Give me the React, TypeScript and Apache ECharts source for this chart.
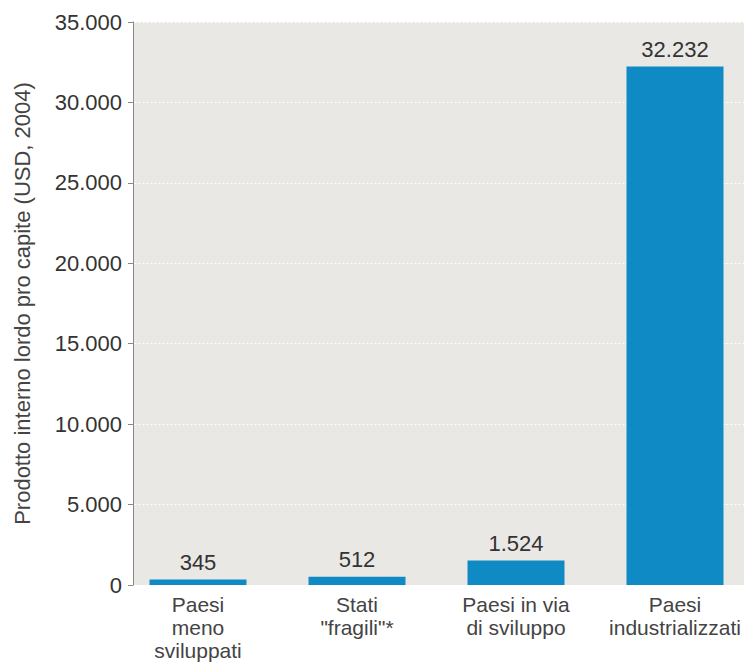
import React, { useEffect, useRef } from "react";
import * as echarts from "echarts";

const categories = [
  "Paesi\nmeno\nsviluppati",
  "Stati\n\"fragili\"*",
  "Paesi in via\ndi sviluppo",
  "Paesi\nindustrializzati",
];
const values = [345, 512, 1524, 32232];
const yAxisName = "Prodotto interno lordo pro capite (USD, 2004)";

const fmt = (v: number) => String(Math.round(v)).replace(/\B(?=(\d{3})+(?!\d))/g, ".");

export default function App() {
  const ref = useRef<HTMLDivElement>(null);
  useEffect(() => {
    const chart = echarts.init(ref.current!, null, { renderer: "svg" });
    const font = "Liberation Sans, Arial, sans-serif";
    chart.setOption({
      animation: false,
      graphic: [
        {
          type: "rect",
          z: -100,
          shape: { x: 133, y: 22, width: 700, height: 563 },
          style: { fill: "#eae8e5" },
          silent: true,
        },
      ],
      grid: { left: 118.5, top: 22, height: 563, width: 636 },
      xAxis: {
        type: "category",
        data: categories,
        axisLine: { show: false },
        axisTick: { show: false },
        axisLabel: {
          interval: 0,
          margin: 8,
          fontFamily: font,
          fontSize: 21,
          lineHeight: 23,
          color: "#444",
        },
      },
      yAxis: {
        type: "value",
        min: 0,
        max: 35000,
        interval: 5000,
        offset: -14.5,
        name: yAxisName,
        nameLocation: "middle",
        nameRotate: 90,
        nameGap: 100,
        nameTextStyle: { fontFamily: font, fontSize: 22, color: "#444" },
        axisLine: { show: true, lineStyle: { color: "#888", width: 1 } },
        axisTick: { show: true, length: 5, lineStyle: { color: "#888" } },
        axisLabel: {
          margin: 11,
          fontFamily: font,
          fontSize: 22,
          color: "#333",
          formatter: (v: number) => fmt(v),
        },
        splitLine: { show: true, lineStyle: { color: "#ffffff", width: 1, type: [2, 2] } },
      },
      series: [
        {
          type: "bar",
          data: values,
          barWidth: 97,
          itemStyle: { color: "#108ac4" },
          label: {
            show: true,
            position: "top",
            distance: 6,
            fontFamily: font,
            fontSize: 22,
            color: "#333",
            formatter: (p: any) => fmt(p.value),
          },
        },
      ],
    });
    return () => chart.dispose();
  }, []);
  return (
    <div
      style={{
        position: "fixed",
        left: 0,
        top: 0,
        width: 744,
        height: 662,
        overflow: "hidden",
        background: "#fff",
      }}
    >
      <div ref={ref} style={{ width: 800, height: 662 }} />
    </div>
  );
}
